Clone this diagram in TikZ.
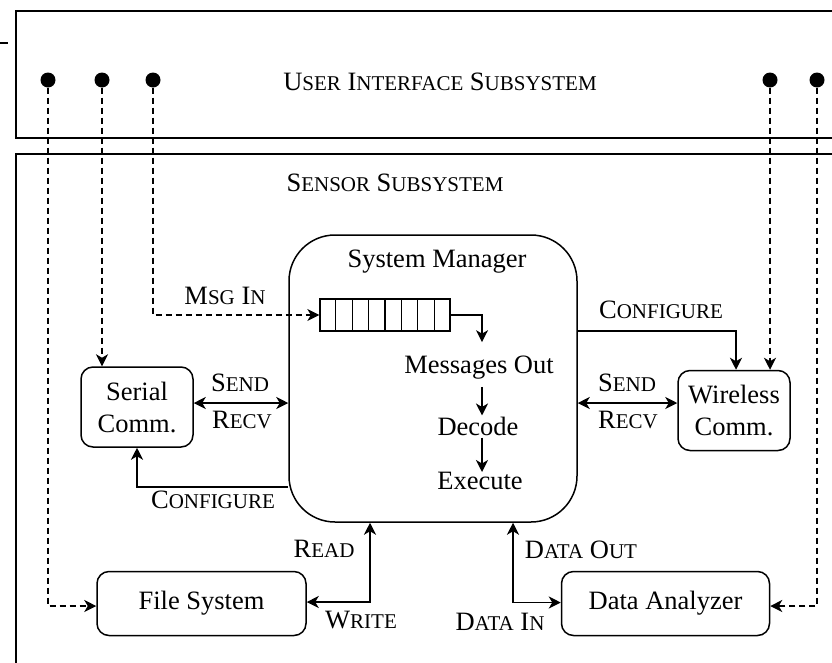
\documentclass[tikz,border=0pt]{standalone}
\usepackage{fontspec}
\setmainfont{Liberation Serif}
\usetikzlibrary{arrows.meta,calc}
% reduced capitals for the small-caps labels
\newcommand\lowcaps[1]{{\fontsize{21}{21}\selectfont #1}}

\tikzset{
  frame/.style={draw,line width=1.6pt},
  box/.style={draw,line width=1.5pt,rounded corners=12pt,inner sep=0pt,align=center},
  dot/.style={circle,fill,inner sep=0pt,minimum size=15pt},
  link/.style={line width=1.4pt,-{Stealth[length=12pt,width=12pt,inset=3.5pt]}},
  dlink/.style={line width=1.4pt,{Stealth[length=12pt,width=12pt,inset=3.5pt]}-{Stealth[length=12pt,width=12pt,inset=3.5pt]}},
  uilink/.style={line width=1.3pt,dash pattern=on 6pt off 4pt,-{Stealth[length=12pt,width=12pt,inset=3.5pt]}},
  lbl/.style={inner sep=0pt},
  txt/.style={inner sep=0pt}
}

\begin{document}
\begin{tikzpicture}[x=1pt,y=-1pt,every node/.style={font=\fontsize{26.5}{28}\selectfont}]
\useasboundingbox (0,0) rectangle (832,662);
\clip (0,0) rectangle (832,662);

% subsystem frames
\draw[frame] (0,43) -- (8,43);
\draw[frame] (900,11) -- (16,11) -- (16,138) -- (900,138);
\draw[frame] (900,154) -- (16,154) -- (16,700);
\node[lbl] (uititle) at (440,82) {U\lowcaps{SER} I\lowcaps{NTERFACE} S\lowcaps{UBSYSTEM}};
\node[lbl] (sstitle) at (395,183) {S\lowcaps{ENSOR} S\lowcaps{UBSYSTEM}};

% interface ports
\node[dot] (d1) at (48,80) {};
\node[dot] (d2) at (102,80) {};
\node[dot] (d3) at (153,80) {};
\node[dot] (d4) at (770,80) {};
\node[dot] (d5) at (817,80) {};

% components
\node[box,rounded corners=46pt,minimum width=288pt,minimum height=287pt] (sm) at (433,378.5) {};
\node[txt] (smtitle) at (437,262) {System Manager};
\node[box] (serial) at (137,407) [minimum width=112pt,minimum height=80pt] {Serial\\[4pt]Comm.};
\node[box] (wireless) at (734,410.5) [minimum width=112pt,minimum height=80pt] {Wireless\\[4pt]Comm.};
\node[box] (fs) at (201.5,603.5) [minimum width=209pt,minimum height=64pt] {File System};
\node[box] (da) at (665.5,603.5) [minimum width=208pt,minimum height=64pt] {Data Analyzer};

% message queue
\node[draw,line width=1.3pt,inner sep=0pt,minimum width=130pt,minimum height=32pt] (queue) at (385,315) {};
\foreach \i in {1,...,7}
  \draw[line width=1.3pt] ($(queue.north west)!\i/8!(queue.north east)$) -- ($(queue.south west)!\i/8!(queue.south east)$);

% processing steps
\node[txt] (mo) at (479,368) {Messages Out};
\node[txt] (dec) at (478,426) {Decode};
\node[txt] (exe) at (480,481) {Execute};
\draw[link] (queue.east) -| ([xshift=3pt,yshift=14pt]mo.north);
\draw[link] ([xshift=3pt,yshift=-7pt]mo.south) -- ([xshift=4pt,yshift=1pt]dec.north);
\draw[link] ([xshift=4pt,yshift=-2pt]dec.south) -- ([xshift=2pt]exe.north);

% links from the interface
\draw[uilink] (d1) |- ([yshift=-2.5pt]fs.west);
\draw[uilink] (d2) -- (d2 |- serial.north);
\draw[uilink] (d3) |- (queue.west);
\draw[uilink] (d4) -- (d4 |- wireless.north);
\draw[uilink] (d5) |- ([yshift=-2.5pt]da.east);
\node[lbl] (msgin) at (225,296) {M\lowcaps{SG} I\lowcaps{N}};

% serial link
\draw[dlink] ([yshift=4pt]serial.east) -- ([yshift=4pt]serial.east -| sm.west);
\node[lbl] (ssend) at (240,383) {S\lowcaps{END}};
\node[lbl] (srecv) at (242,420) {R\lowcaps{ECV}};
\draw[link] ([yshift=-108.5pt]sm.west) -| (serial.south);
\node[lbl] (scfg) at (213,500) {C\lowcaps{ONFIGURE}};

% wireless link
\draw[dlink] ([yshift=7.5pt]wireless.west -| sm.east) -- ([yshift=7.5pt]wireless.west);
\node[lbl] (wsend) at (627,383) {S\lowcaps{END}};
\node[lbl] (wrecv) at (628,420) {R\lowcaps{ECV}};
\draw[link] ([yshift=47.5pt]sm.east) -| ([xshift=2pt]wireless.north);
\node[lbl] (wcfg) at (661,310) {C\lowcaps{ONFIGURE}};

% file system link
\draw[dlink] ([yshift=1.5pt]fs.east) -| ([xshift=-63pt]sm.south);
\node[lbl] (rd) at (324,549) {R\lowcaps{EAD}};
\node[lbl] (wr) at (361,620) {W\lowcaps{RITE}};

% data analyzer link
\draw[dlink] ([xshift=80pt]sm.south) |- ([yshift=1pt]da.west);
\node[lbl] (dout) at (581,550) {D\lowcaps{ATA} O\lowcaps{UT}};
\node[lbl] (din) at (500,622) {D\lowcaps{ATA} I\lowcaps{N}};
\end{tikzpicture}
\end{document}
